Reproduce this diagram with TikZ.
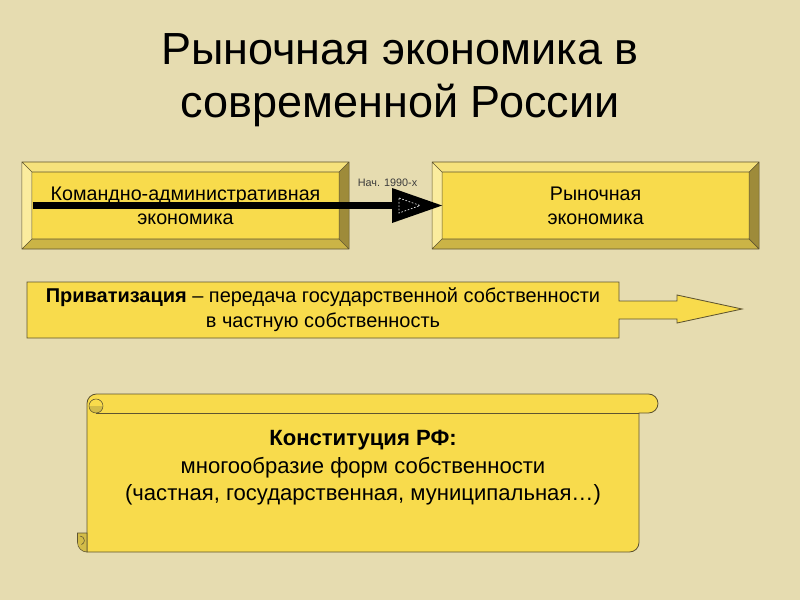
\documentclass[tikz,border=0pt]{standalone}
\usepackage{fontspec}
\setmainfont{Liberation Sans}
\usetikzlibrary{arrows.meta,positioning,calc}
\definecolor{bgbeige}{HTML}{E6DCB0}
\definecolor{face}{HTML}{F8DB4C}
\definecolor{bevtop}{HTML}{F6E27C}
\definecolor{bevleft}{HTML}{FBEC9E}
\definecolor{bevright}{HTML}{9E8B3A}
\definecolor{bevbot}{HTML}{CBB446}
\definecolor{edge}{HTML}{5E5431}
\definecolor{rolldark}{HTML}{D3BC48}
\definecolor{labelgrey}{HTML}{3C3C3C}

% bevelled frame round a box node
\newcommand{\bevelframe}[1]{%
  \fill[bevtop] (#1.north west) -- (#1.north east) -- ($(#1.north east)+(-10,10)$) -- ($(#1.north west)+(10,10)$) -- cycle;
  \fill[bevleft] (#1.north west) -- ($(#1.north west)+(10,10)$) -- ($(#1.south west)+(10,-10)$) -- (#1.south west) -- cycle;
  \fill[bevright] (#1.north east) -- ($(#1.north east)+(-10,10)$) -- ($(#1.south east)+(-10,-10)$) -- (#1.south east) -- cycle;
  \fill[bevbot] (#1.south west) -- ($(#1.south west)+(10,-10)$) -- ($(#1.south east)+(-10,-10)$) -- (#1.south east) -- cycle;
  \draw[thinedge] (#1.north west) rectangle (#1.south east)
    ($(#1.north west)+(10,10)$) rectangle ($(#1.south east)+(-10,-10)$)
    (#1.north west) -- ++(10,10) (#1.north east) -- ++(-10,10)
    (#1.south west) -- ++(10,-10) (#1.south east) -- ++(-10,-10);
}

\begin{document}
\begin{tikzpicture}[
  x=0.025cm, y=-0.025cm,
  bevelbox/.style={minimum width=8.175cm, minimum height=2.175cm, inner sep=0pt, outer sep=0pt, fill=face, align=center, font=\fontsize{14}{17}\selectfont},
  thinedge/.style={draw=edge, line width=0.4pt},
  shapeedge/.style={draw=edge, line width=0.6pt, fill=face},
  bigarrow/.style={line width=5.3pt, -{Triangle[length=35.6pt, width=24.9pt, line width=0pt]}, black},
  titletext/.style={align=center, font=\fontsize{32}{38}\selectfont},
  privtext/.style={align=center, font=\fontsize{14.2}{17.8}\selectfont},
  consttext/.style={align=center, font=\fontsize{15.7}{19.5}\selectfont},
  datelabel/.style={font=\fontsize{7.7}{9}\selectfont, text=labelgrey, inner sep=0pt}
]
\fill[bgbeige] (0,0) rectangle (800,600);
\useasboundingbox (0,0) rectangle (800,600);

\node[titletext] (title) at (400,80) {Рыночная экономика в\\современной России};

\node[bevelbox] (cmd) at (185.5,205.5) {Командно-административная\\экономика};
\node[bevelbox, right=2.075cm of cmd] (mkt) {Рыночная\\экономика};
\bevelframe{cmd}
\bevelframe{mkt}

\draw[bigarrow] ($(cmd.west)+(11,0)$) -- ($(mkt.west)+(10,0)$);
\draw[white!75!gray, line width=0.5pt, dash pattern=on 1.2pt off 1.2pt]
  ($(mkt.west)+(-33,-7.5)$) -- ($(mkt.west)+(-12,0)$) -- ($(mkt.west)+(-33,7.5)$) -- cycle;
\node[datelabel] (date) at ($(cmd.east)!0.5!(mkt.west)+(-3,-23)$) {Нач. 1990-х};

% privatization box with arrow
\draw[shapeedge] (27,282) -- (619,282) -- (619,301) -- (677,301) -- (677,295) -- (742,309)
  -- (677,323) -- (677,319) -- (619,319) -- (619,338) -- (27,338) -- cycle;
\node[privtext] (priv) at (323,310) {\textbf{Приватизация} – передача государственной собственности\\в частную собственность};

% scroll
\draw[shapeedge] (87,403.5) arc[start angle=180, end angle=90, radius=2.375mm] -- (648.5,394)
  arc[start angle=90, end angle=-90, radius=2.375mm] -- (639,413) -- (639,542.5)
  arc[start angle=0, end angle=-90, radius=2.375mm] -- (87,552) -- cycle;
\draw[thinedge] (96,413) -- (639,413);
\fill[rolldark] (89,406) arc[start angle=180, end angle=360, radius=1.75mm] -- cycle;
\draw[thinedge] (96,406) circle[radius=1.75mm];
\draw[thinedge, fill=rolldark] (87,533) -- (77.5,533) -- (77.5,542.5)
  arc[start angle=180, end angle=270, radius=2.375mm] -- cycle;
\draw[thinedge] (80,536) arc[start angle=90, end angle=-70, radius=1.1mm];
\node[consttext] (const) at (363,468) {\textbf{Конституция РФ:}\\многообразие форм собственности\\(частная, государственная, муниципальная…)};
\end{tikzpicture}
\end{document}
